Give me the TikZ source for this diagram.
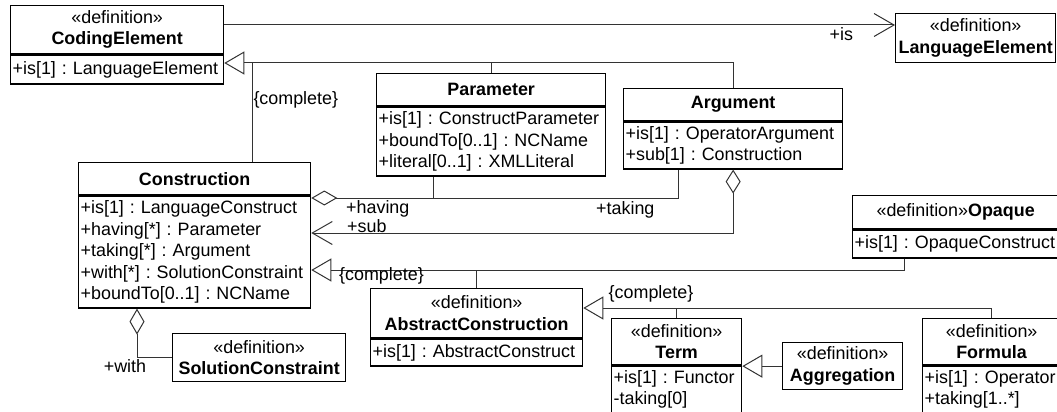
\documentclass[tikz,border=0pt]{standalone}
\usepackage{fontspec}
\setmainfont{Liberation Sans}
\usepackage{tikz}
\usetikzlibrary{arrows.meta, positioning}
\frenchspacing
\hyphenpenalty=10000
\exhyphenpenalty=10000

\begin{document}
\begin{tikzpicture} [
    x = 1pt, y = -1pt,
    font = \fontsize{17.9pt}{21.5pt}\selectfont,
    cls/.style = {rectangle, draw, line width=1.3pt, inner sep=0pt, align=center, anchor=north west},
    attrs/.style = {rectangle, draw, line width=1.3pt, inner xsep=2pt, inner ysep=0pt, align=left},
    lbl/.style = {inner sep=0pt, text=black},
    conn/.style = {draw, black!80, line width=1pt},
    gen/.style = {conn, -{Triangle[open, length=20pt, width=23pt]}},
    assoc/.style = {conn, -{Straight Barb[length=20pt, width=23pt]}},
    aggr/.style = {conn, {Diamond[open, length=26pt, width=15pt]}-}
    ]
    \useasboundingbox (0,0) rectangle (1057,412);

    \node[cls, minimum width=213, minimum height=48] (ce) at (10,5) {«definition»\\\textbf{CodingElement}};
    \node[attrs, text width=209, minimum height=29, below=0pt of ce] (ceA) {+is[1] : LanguageElement};

    \node[cls, minimum width=160, minimum height=49] (le) at (895,13) {«definition»\\\textbf{LanguageElement}};

    \node[cls, minimum width=229, minimum height=32] (par) at (376,73) {\textbf{Parameter}};
    \node[attrs, text width=225, minimum height=69, below=0pt of par] (parA) {+is[1] : ConstructParameter\\+boundTo[0..1] : NCName\\+literal[0..1] : XMLLiteral};

    \node[cls, minimum width=219, minimum height=32] (arg) at (623,88) {\textbf{Argument}};
    \node[attrs, text width=215, minimum height=47, below=0pt of arg] (argA) {+is[1] : OperatorArgument\\+sub[1] : Construction};

    \node[cls, minimum width=232, minimum height=32] (con) at (78,162) {\textbf{Construction}};
    \node[attrs, text width=228, minimum height=112, below=0pt of con] (conA) {+is[1] : LanguageConstruct\\+having[*] : Parameter\\+taking[*] : Argument\\+with[*] : SolutionConstraint\\+boundTo[0..1] : NCName};

    \node[cls, minimum width=173, minimum height=48] (sc) at (172,333) {«definition»\\\textbf{SolutionConstraint}};

    \node[cls, minimum width=206, minimum height=33] (opq) at (852,195) {«definition»\textbf{Opaque}};
    \node[attrs, text width=202, minimum height=28, below=0pt of opq] (opqA) {+is[1] : OpaqueConstruct};

    \node[cls, minimum width=212, minimum height=49] (ac) at (370,288) {«definition»\\\textbf{AbstractConstruction}};
    \node[attrs, text width=208, minimum height=27, below=0pt of ac] (acA) {+is[1] : AbstractConstruct};

    \node[cls, minimum width=130, minimum height=46] (term) at (611,318) {«definition»\\\textbf{Term}};
    \node[attrs, text width=126, minimum height=47, below=0pt of term] (termA) {+is[1] : Functor\\-taking[0]};

    \node[cls, minimum width=120, minimum height=47] (agg) at (782,342) {«definition»\\\textbf{Aggregation}};

    \node[cls, minimum width=138, minimum height=46] (fml) at (922,318) {«definition»\\\textbf{Formula}};
    \node[attrs, text width=134, minimum height=47, below=0pt of fml] (fmlA) {+is[1] : Operator\\+taking[1..*]};

    % CodingElement
    \draw[assoc] (ce.east |- 0,25) -- (le.west |- 0,25) node[lbl, pos=0.92, below, inner sep=2pt] {+is};
    \draw[gen] (arg.north) |- (ceA.east |- 0,63);
    \draw[conn] (par.north) -- (par.north |- 0,63);
    \draw[conn] (con.north -| 252,0) -- (252,63) node[lbl, pos=0.63, right, inner sep=1pt] {\{complete\}};

    % Construction
    \coordinate (hv) at (433,198);
    \draw[aggr] (con.east |- 0,198) -| (argA.south -| 678,0);
    \draw[conn] (hv) -- (parA.south -| hv);
    \draw[conn, {Diamond[open, length=24pt, width=15pt]}-{Straight Barb[length=20pt, width=23pt]}] (argA.south) |- (conA.east |- 0,233);
    \node[lbl, anchor=west] (lhav) at (346,209) {+having};
    \node[lbl, anchor=west] (lsub) at (347,226) {+sub};
    \node[lbl, anchor=west] (ltak) at (596,210) {+taking};

    \draw[gen] (opqA.south -| 904,0) |- (conA.east |- 0,270);
    \draw[conn] (ac.north) -- (ac.north |- 0,270);
    \node[lbl, anchor=west] (lcmp) at (339,276) {\{complete\}};

    \draw[aggr] (conA.south -| 137,0) |- (sc.west);
    \node[lbl] (lwith) at (125,366) {+with};

    % AbstractConstruction
    \draw[gen] (fml.north) |- (ac.east |- 0,308);
    \draw[conn] (term.north) -- (term.north |- 0,308);
    \node[lbl] (lcmp2) at (651,294) {\{complete\}};
    \draw[gen] (agg.west) -- (termA.east |- agg.west);

\end{tikzpicture}
\end{document}
